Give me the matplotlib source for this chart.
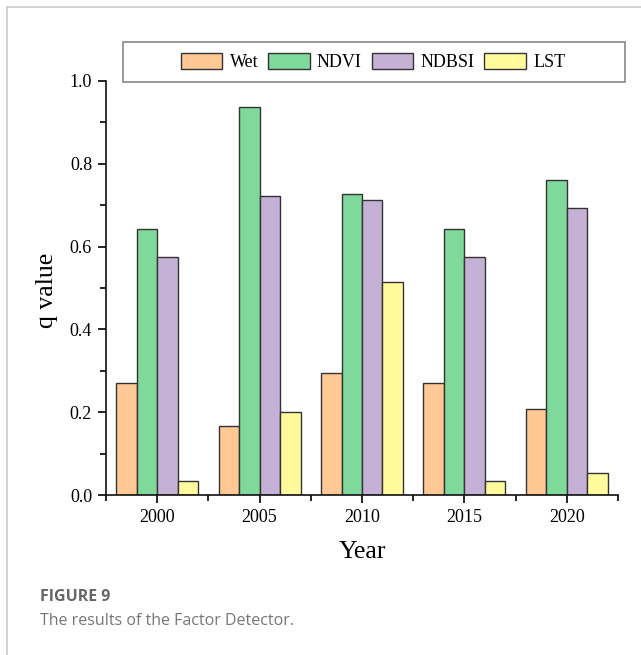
import matplotlib
matplotlib.use("Agg")
import matplotlib.pyplot as plt
from matplotlib.lines import Line2D
from matplotlib.patches import Rectangle
from matplotlib.ticker import MultipleLocator, FormatStrFormatter
import numpy as np

years = [2000, 2005, 2010, 2015, 2020]
series = ["Wet", "NDVI", "NDBSI", "LST"]
wet = [0.271, 0.167, 0.295, 0.271, 0.208]
ndvi = [0.643, 0.938, 0.727, 0.643, 0.762]
ndbsi = [0.575, 0.722, 0.713, 0.575, 0.693]
lst = [0.034, 0.201, 0.515, 0.034, 0.054]
colors = ["#FFC894", "#7ED99B", "#C5B0D6", "#FFFA9C"]

W, H = 641, 655
fig = plt.figure(figsize=(W / 100, H / 100), dpi=100)
serif = "Liberation Serif"

ax = fig.add_axes([106 / W, 1 - 495 / H, (618 - 106) / W, (495 - 81) / H])
bw = 1.0
x = np.array(years, dtype=float)
for i, (name, vals) in enumerate(zip(series, [wet, ndvi, ndbsi, lst])):
    ax.bar(x + (i - 1.5) * bw, vals, width=bw, color=colors[i],
           edgecolor="#333333", linewidth=1.0, label=name, zorder=2)

ax.set_xlim(1997.5, 2022.5)
ax.set_ylim(0, 1.0)
ax.set_xticks(years)
ax.set_xticks([1997.5 + 5 * k for k in range(6)], minor=True)
ax.yaxis.set_major_locator(MultipleLocator(0.2))
ax.yaxis.set_minor_locator(MultipleLocator(0.1))
ax.yaxis.set_major_formatter(FormatStrFormatter("%.1f"))
for s in ["top", "right"]:
    ax.spines[s].set_visible(False)
for s in ["left", "bottom"]:
    ax.spines[s].set_linewidth(1.2)
    ax.spines[s].set_color("#111111")
ax.tick_params(axis="both", which="major", direction="out", length=6, width=1.2,
               labelsize=13, pad=4)
ax.tick_params(axis="both", which="minor", direction="out", length=4, width=1.2)
for lab in ax.get_xticklabels() + ax.get_yticklabels():
    lab.set_fontfamily(serif)

xl = ax.set_xlabel("Year", fontfamily=serif, fontsize=18.5)
xl.set_va("center")
ax.xaxis.set_label_coords(0.5, (495 - 552) / 414)
yl = ax.set_ylabel("q value", fontfamily=serif, fontsize=18.5)
yl.set_va("center")
ax.yaxis.set_label_coords((47 - 106) / 512, (495 - 290) / 414)

# legend frame
fig.add_artist(Rectangle((123 / W, 1 - 82 / H), (625 - 123) / W, 40 / H,
                         transform=fig.transFigure, fill=False,
                         edgecolor="#888888", linewidth=1.2))
leg = fig.legend(loc="center", bbox_to_anchor=(373 / W, 1 - 62 / H),
                 ncol=4, frameon=False,
                 prop={"family": serif, "size": 13}, handlelength=2.3,
                 handleheight=1.0, handletextpad=0.4, columnspacing=0.55)

# figure panel frame
fig.add_artist(Line2D([7 / W, 1], [1 - 7 / H, 1 - 7 / H], color="#cccccc", lw=1.2))
fig.add_artist(Line2D([7 / W, 7 / W], [0, 1 - 7 / H], color="#cccccc", lw=1.2))

fig.text(40 / W, 1 - 597 / H, "FIGURE 9", fontfamily="Open Sans", fontweight="bold",
         fontsize=11.5, color="#666666", va="center", ha="left")
fig.text(40 / W, 1 - 621 / H, "The results of the Factor Detector.", fontfamily="Open Sans",
         fontsize=11.5, color="#777777", va="center", ha="left")

fig.savefig("out.png", dpi=100)
